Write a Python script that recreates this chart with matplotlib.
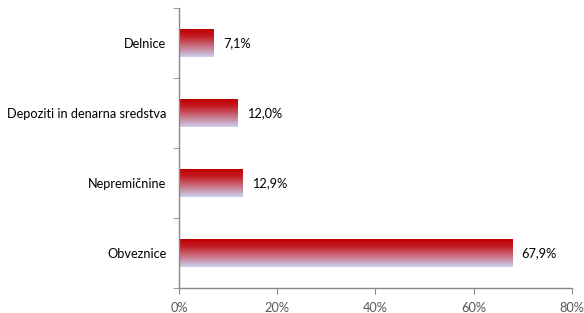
import numpy as np
import matplotlib
matplotlib.use("Agg")
import matplotlib.pyplot as plt
from matplotlib.colors import LinearSegmentedColormap
from matplotlib.ticker import FuncFormatter

# data (top to bottom as drawn)
categories = ["Delnice", "Depoziti in denarna sredstva", "Nepremičnine", "Obveznice"]
shares = [7.1, 12.0, 12.9, 67.9]
value_labels = ["7,1%", "12,0%", "12,9%", "67,9%"]
x_ticks = [0, 20, 40, 60, 80]

plt.rcParams['font.family'] = ['Lato', 'DejaVu Sans']

fig = plt.figure(figsize=(5.84, 3.13), dpi=100)
ax = fig.add_axes([0.3065, 0.080, 0.6725, 0.8945])

# positions: first category at top
ypos = np.arange(len(categories))[::-1]
bars = ax.barh(ypos, shares, height=0.4, color='none', edgecolor='none')

# vertical gradient red -> lavender inside each bar
cmap = LinearSegmentedColormap.from_list(
    "grad", [(0.0, "#C00000"), (0.25, "#C41A22"), (1.0, "#CDD0EE")])
grad = np.linspace(0, 1, 256).reshape(-1, 1)
for b in bars:
    x0, y0 = b.get_x(), b.get_y()
    w, h = b.get_width(), b.get_height()
    ax.imshow(grad, cmap=cmap, aspect='auto', origin='upper',
              extent=[x0, x0 + w, y0, y0 + h], zorder=2)

for y, v, lab in zip(ypos, shares, value_labels):
    ax.text(v + 1.9, y, lab, va='center', ha='left', fontsize=9.2, color='#000000')

ax.set_xlim(0, 80)
ax.set_ylim(-0.5, len(categories) - 0.5)
ax.set_xticks(x_ticks)
ax.xaxis.set_major_formatter(FuncFormatter(lambda v, p: f"{int(v)}%"))
ax.set_yticks(ypos)
ax.set_yticklabels(categories)
ax.set_yticks(np.arange(-0.5, len(categories)), minor=True)

for s in ['top', 'right']:
    ax.spines[s].set_visible(False)
for s in ['left', 'bottom']:
    ax.spines[s].set_color('#888888')
    ax.spines[s].set_linewidth(1.0)

ax.tick_params(axis='y', which='major', length=0, pad=9, labelsize=9.2, labelcolor='#000000')
ax.tick_params(axis='y', which='minor', length=4, color='#888888', direction='out')
ax.tick_params(axis='x', length=4, color='#888888', labelsize=9.2, labelcolor='#595959', pad=6)

fig.savefig("out.png", dpi=100)
